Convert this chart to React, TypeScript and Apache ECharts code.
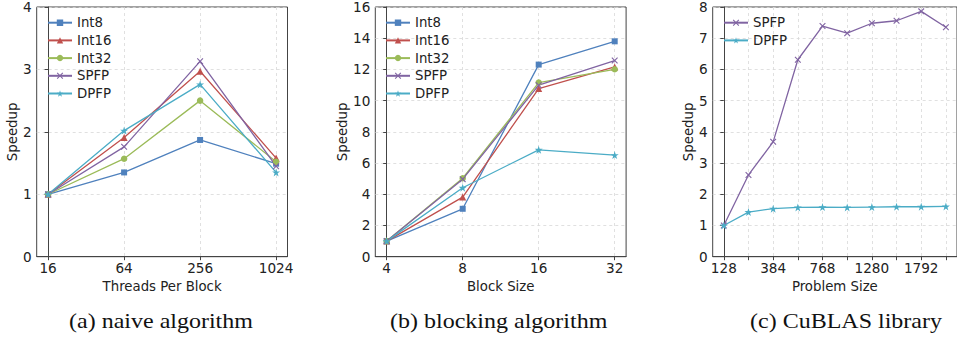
import React, { useEffect, useRef } from 'react';
import * as echarts from 'echarts';

const threadCats = ['16', '64', '256', '1024'];
const blockCats = ['4', '8', '16', '32'];
const sizeCats = ['128', '256', '384', '512', '768', '1024', '1280', '1536', '1792', '2048'];
const sizeLabelIdx = [0, 2, 4, 6, 8];

const naiveInt8 = [1.0, 1.35, 1.87, 1.49];
const naiveInt16 = [1.0, 1.91, 2.97, 1.58];
const naiveInt32 = [1.0, 1.57, 2.5, 1.52];
const naiveSPFP = [1.0, 1.76, 3.13, 1.45];
const naiveDPFP = [1.0, 2.02, 2.76, 1.35];

const blockInt8 = [1.0, 3.07, 12.31, 13.8];
const blockInt16 = [1.0, 3.82, 10.77, 12.16];
const blockInt32 = [1.0, 5.03, 11.16, 12.01];
const blockSPFP = [1.0, 4.97, 10.99, 12.57];
const blockDPFP = [1.0, 4.42, 6.85, 6.51];

const cublasSPFP = [1.0, 2.62, 3.68, 6.31, 7.39, 7.16, 7.48, 7.56, 7.86, 7.35];
const cublasDPFP = [1.0, 1.43, 1.54, 1.58, 1.59, 1.58, 1.59, 1.6, 1.6, 1.61];

const captions = ['(a) naive algorithm', '(b) blocking algorithm', '(c) CuBLAS library'];

const X_PATH = 'path://M0,1.2L1.2,0L5,3.8L8.8,0L10,1.2L6.2,5L10,8.8L8.8,10L5,6.2L1.2,10L0,8.8L3.8,5Z';
const STAR_PATH =
  'path://M10,0L12.245,6.91L19.51,6.91L13.63,11.18L15.88,18.09L10,13.82L4.12,18.09L6.37,11.18L0.49,6.91L7.755,6.91Z';

const styles: Record<string, { color: string; symbol: string; size: number }> = {
  Int8: { color: '#4F81BD', symbol: 'rect', size: 6 },
  Int16: { color: '#C0504D', symbol: 'triangle', size: 7 },
  Int32: { color: '#9BBB59', symbol: 'circle', size: 6.5 },
  SPFP: { color: '#8064A2', symbol: X_PATH, size: 6.5 },
  DPFP: { color: '#4BACC6', symbol: STAR_PATH, size: 8 },
};

const FONT = 'DejaVu Sans';
const TEXT = '#222';
const FRAME = '#444';

function mkSeries(name: string, vals: number[], idx: number) {
  const s = styles[name];
  return {
    type: 'line',
    name,
    xAxisIndex: idx,
    yAxisIndex: idx,
    data: vals.map((v, i) => [i, v]),
    symbol: s.symbol,
    symbolSize: s.size,
    showSymbol: true,
    color: s.color,
    lineStyle: { width: 1.3, color: s.color },
    itemStyle: { color: s.color },
  };
}

function mkX(idx: number, cats: string[], min: number, max: number, labelIdx: number[], name: string) {
  const all = cats.map((_, i) => i);
  return {
    type: 'value',
    gridIndex: idx,
    min,
    max,
    name,
    nameLocation: 'middle',
    nameGap: 20,
    nameTextStyle: { fontFamily: FONT, fontSize: 13.3, color: TEXT },
    axisLine: { show: true, onZero: false, lineStyle: { color: FRAME, width: 1 } },
    axisTick: { show: true, inside: false, length: 3.5, customValues: all, lineStyle: { color: FRAME } },
    axisLabel: {
      customValues: labelIdx,
      formatter: (v: number) => cats[Math.round(v)] ?? '',
      margin: 4,
      fontFamily: FONT,
      fontSize: 13.6,
      color: TEXT,
    },
    splitLine: { show: true, lineStyle: { color: '#d8d8d8', width: 0.8, type: [3, 3] } },
  };
}

function mkY(idx: number, max: number, interval: number, nameGap: number) {
  return {
    type: 'value',
    gridIndex: idx,
    min: 0,
    max,
    interval,
    name: 'Speedup',
    nameLocation: 'middle',
    nameGap,
    nameTextStyle: { fontFamily: FONT, fontSize: 13.3, color: TEXT },
    axisLine: { show: true, lineStyle: { color: FRAME, width: 1 } },
    axisTick: { show: true, inside: false, length: 3.5, lineStyle: { color: FRAME } },
    axisLabel: { margin: 5, fontFamily: FONT, fontSize: 13.6, color: TEXT },
    splitLine: { show: true, lineStyle: { color: '#d8d8d8', width: 0.8, type: [3, 3] } },
  };
}

function mkLegend(left: number, names: string[]) {
  return {
    left,
    top: 15.7,
    orient: 'vertical',
    padding: 0,
    itemWidth: 24,
    itemHeight: 8,
    itemGap: 3.7,
    data: names,
    textStyle: { fontFamily: FONT, fontSize: 13.3, color: TEXT, lineHeight: 14 },
  };
}

export default function App() {
  const ref = useRef<HTMLDivElement>(null);
  useEffect(() => {
    if (!ref.current) return;
    const chart = echarts.init(ref.current, null, { renderer: 'svg' });
    const grids = [
      { left: 36.7, top: 6, width: 250.8, height: 250.7 },
      { left: 375.3, top: 6, width: 250.8, height: 250.7 },
      { left: 712.7, top: 6, width: 250.8, height: 250.7 },
    ].map((g) => ({ ...g, show: true, borderColor: FRAME, borderWidth: 1, backgroundColor: 'transparent' }));
    const five = ['Int8', 'Int16', 'Int32', 'SPFP', 'DPFP'];
    const option = {
      animation: false,
      grid: grids,
      xAxis: [
        mkX(0, threadCats, -0.15, 3.15, [0, 1, 2, 3], 'Threads Per Block'),
        mkX(1, blockCats, -0.15, 3.15, [0, 1, 2, 3], 'Block Size'),
        mkX(2, sizeCats, -0.45, 9.45, sizeLabelIdx, 'Problem Size'),
      ],
      yAxis: [mkY(0, 4, 1, 15), mkY(1, 16, 2, 25), mkY(2, 8, 1, 15)],
      legend: [mkLegend(47, five), mkLegend(385, five), mkLegend(723, ['SPFP', 'DPFP'])],
      series: [
        mkSeries('Int8', naiveInt8, 0),
        mkSeries('Int16', naiveInt16, 0),
        mkSeries('Int32', naiveInt32, 0),
        mkSeries('SPFP', naiveSPFP, 0),
        mkSeries('DPFP', naiveDPFP, 0),
        mkSeries('Int8', blockInt8, 1),
        mkSeries('Int16', blockInt16, 1),
        mkSeries('Int32', blockInt32, 1),
        mkSeries('SPFP', blockSPFP, 1),
        mkSeries('DPFP', blockDPFP, 1),
        mkSeries('SPFP', cublasSPFP, 2),
        mkSeries('DPFP', cublasDPFP, 2),
      ],
      graphic: captions.map((t, i) => ({
        type: 'text',
        x: [161, 498.7, 846][i],
        y: 321.5,
        scaleX: 1.16,
        style: {
          text: t,
          fontFamily: 'Liberation Serif',
          fontSize: 20.7,
          fill: '#111',
          align: 'center',
          verticalAlign: 'middle',
        },
      })),
    };
    chart.setOption(option as any);
    return () => chart.dispose();
  }, []);
  return (
    <div
      ref={ref}
      style={{ position: 'fixed', left: 0, top: 0, width: 957, height: 339, background: '#fff' }}
    />
  );
}
